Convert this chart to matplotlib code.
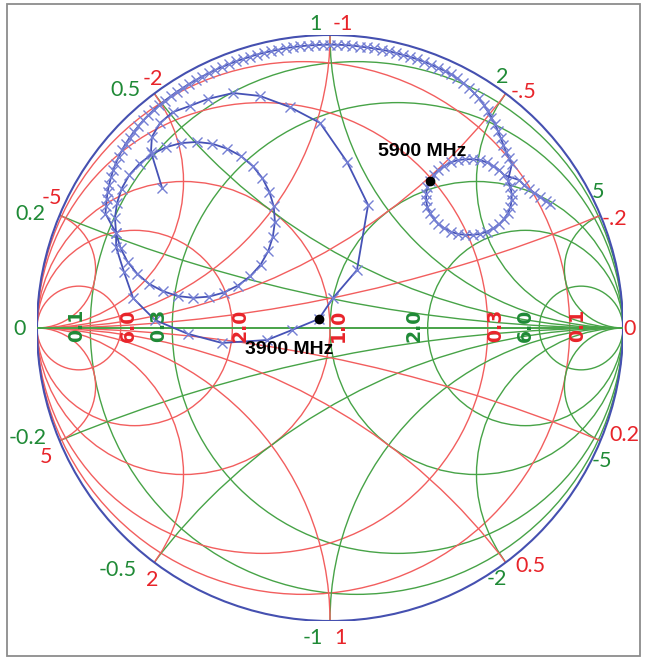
import numpy as np
import matplotlib.pyplot as plt
from matplotlib.patches import Circle, Rectangle

# Smith-Diagramm (ZY): Impedanzgitter gruen, Admittanzgitter rot
r_values = [0.1, 0.3, 1.0, 2.0, 6.0]
g_values = [0.1, 0.3, 1.0, 2.0, 6.0]
x_values = [0.2, 0.5, 1.0, 2.0, 5.0, -0.2, -0.5, -1.0, -2.0, -5.0]
b_values = [0.2, 0.5, 1.0, 2.0, 5.0, -0.2, -0.5, -1.0, -2.0, -5.0]
r_labels = ['0.1', '0.3', '', '2.0', '6.0']
g_labels = ['0.1', '0.3', '1.0', '2.0', '6.0']

# Messkurve S11 (Reflexionsfaktor, Real- und Imaginaerteil)
p1_re = [-0.573, -0.611, -0.608, -0.580, -0.536, -0.478, -0.416, -0.331, -0.239,
         -0.137, -0.034, 0.058, 0.130, 0.092, 0.010, -0.038]
p1_im = [0.478, 0.601, 0.652, 0.700, 0.737, 0.758, 0.782, 0.802, 0.792,
         0.754, 0.700, 0.567, 0.420, 0.198, 0.102, 0.031]
p2_re = [-0.130, -0.215, -0.369, -0.485, -0.597, -0.672, -0.703, -0.730]
p2_im = [-0.007, -0.041, -0.051, -0.020, 0.027, 0.102, 0.191, 0.276]
l_re = [-0.730, -0.734, -0.727, -0.711, -0.685, -0.650, -0.608, -0.560, -0.509,
        -0.455, -0.402, -0.351, -0.304, -0.264, -0.231, -0.207, -0.192, -0.188,
        -0.195, -0.211, -0.237, -0.272, -0.314, -0.362, -0.413, -0.467, -0.520,
        -0.571, -0.618, -0.658, -0.691, -0.715, -0.730]
l_im = [0.323, 0.375, 0.426, 0.476, 0.522, 0.561, 0.593, 0.617, 0.631,
        0.635, 0.629, 0.612, 0.587, 0.553, 0.512, 0.465, 0.415, 0.363,
        0.312, 0.262, 0.216, 0.177, 0.145, 0.121, 0.107, 0.103, 0.109,
        0.126, 0.151, 0.185, 0.226, 0.273, 0.323]
o1_ang = [153, 151.5, 150, 148.5, 147, 145.5, 144, 142.5, 141, 139.5, 138, 136.5,
          135, 133.5, 132, 130.5, 129, 127.5, 126, 124.5, 123, 121.5, 120, 118.5,
          117, 115.5, 114, 112.5, 111, 109.5, 108, 106.5, 105, 103.5, 102, 100.5,
          99, 97.5, 96, 94.5, 93, 91.5, 90, 88.5, 87, 85.5, 84, 82.5, 81, 79.5,
          78, 76.5, 75, 73.5, 72, 70.5, 69, 67.5, 66, 64.5, 63, 61.5, 60, 58.5,
          57, 55.5, 54, 52.5, 51, 49.5, 48, 46.5, 45, 43.5, 42]
o1_mag = [0.860, 0.870, 0.880, 0.890, 0.899, 0.907, 0.915, 0.922, 0.928, 0.934,
          0.939, 0.943, 0.947, 0.950, 0.953, 0.955, 0.957, 0.958, 0.959, 0.960,
          0.961, 0.961, 0.962, 0.962, 0.963, 0.963, 0.964, 0.964, 0.964, 0.965,
          0.965, 0.965, 0.966, 0.966, 0.966, 0.966, 0.967, 0.967, 0.967, 0.967,
          0.967, 0.967, 0.967, 0.967, 0.967, 0.967, 0.966, 0.966, 0.966, 0.966,
          0.966, 0.965, 0.965, 0.965, 0.964, 0.964, 0.963, 0.962, 0.961, 0.959,
          0.956, 0.952, 0.947, 0.941, 0.934, 0.925, 0.915, 0.905, 0.895, 0.883,
          0.871, 0.860, 0.850, 0.842, 0.835]
s_re = [0.607, 0.616, 0.620, 0.620, 0.616, 0.607, 0.594, 0.578, 0.558, 0.536,
        0.512, 0.487, 0.461, 0.436, 0.412, 0.390, 0.370, 0.354, 0.341, 0.332,
        0.328, 0.328, 0.332, 0.341, 0.354, 0.370, 0.390, 0.412, 0.436, 0.461,
        0.487, 0.512, 0.536, 0.558, 0.578, 0.594]
s_im = [0.502, 0.481, 0.458, 0.436, 0.413, 0.392, 0.372, 0.355, 0.341, 0.329,
        0.321, 0.318, 0.318, 0.321, 0.329, 0.341, 0.355, 0.372, 0.392, 0.413,
        0.436, 0.458, 0.481, 0.502, 0.522, 0.539, 0.553, 0.565, 0.573, 0.576,
        0.576, 0.573, 0.565, 0.553, 0.539, 0.522]
o2_ang = [38, 36.5, 35, 33.5, 32, 30.5, 29.5]
o2_mag = [0.820, 0.822, 0.828, 0.836, 0.845, 0.855, 0.862]

# Marker
mark_text = ['3900 MHz', '5900 MHz']
mark_re = [-0.038, 0.341]
mark_im = [0.031, 0.502]

# Beschriftung am Rand: (Text, Farbe, x_px, y_px)
rand_labels = [
    ('1', 'g', 315, 24), ('-1', 'r', 343, 24),
    ('0.5', 'g', 125, 90), ('-2', 'r', 153, 79),
    ('2', 'g', 502, 77), ('-.5', 'r', 524, 92),
    ('0.2', 'g', 30, 214), ('-5', 'r', 52, 198),
    ('5', 'g', 598, 192), ('-.2', 'r', 614, 219),
    ('0', 'g', 20, 329), ('0', 'r', 630, 329),
    ('-0.2', 'g', 28, 438), ('5', 'r', 46, 457),
    ('0.2', 'r', 624, 435), ('-5', 'g', 602, 461),
    ('-0.5', 'g', 118, 570), ('2', 'r', 152, 580),
    ('-2', 'g', 497, 579), ('0.5', 'r', 530, 566),
    ('-1', 'g', 313, 638), ('1', 'r', 340, 638),
]

GRUEN = '#47a347'
ROT = '#f25e5e'
GRUEN_T = '#1f8a36'
ROT_T = '#e8242a'
BLAU = '#4550b0'
farbe = {'g': GRUEN_T, 'r': ROT_T}

fig = plt.figure(figsize=(6.46, 6.60), dpi=100)
fig.patches.append(Rectangle((7/646, 4/660), 633/646, 652/660, transform=fig.transFigure,
                             fill=False, ec='#8c8c8c', lw=1.3))
ax = fig.add_axes([37/646, 39/660, 586/646, 586/660])
ax.set_xlim(-1, 1)
ax.set_ylim(-1, 1)
ax.axis('off')
px = 1 / 293.0

einheit = Circle((0, 0), 1, transform=ax.transData)

# Widerstands- und Leitwertkreise
for r in r_values:
    ax.add_patch(Circle((r / (1 + r), 0), 1 / (1 + r), fill=False, ec=GRUEN, lw=1.0))
for g in g_values:
    ax.add_patch(Circle((-g / (1 + g), 0), 1 / (1 + g), fill=False, ec=ROT, lw=1.0))

# Reaktanz- und Suszeptanzboegen
for x in x_values:
    c = Circle((1, 1 / x), 1 / abs(x), fill=False, ec=GRUEN, lw=1.0)
    ax.add_patch(c)
    c.set_clip_path(einheit)
for b in b_values:
    c = Circle((-1, -1 / b), 1 / abs(b), fill=False, ec=ROT, lw=1.0)
    ax.add_patch(c)
    c.set_clip_path(einheit)

ax.plot([-1, 1], [0, 0], color=GRUEN, lw=1.4)
ax.add_patch(Circle((0, 0), 1, fill=False, ec=BLAU, lw=1.5))

# Achsenbeschriftung (gedreht)
for r, t in zip(r_values, r_labels):
    if t:
        xl = (r - 1) / (r + 1) - 14 * px
        ax.text(xl, 3 * px, t, rotation=90, ha='center', va='center', color=GRUEN_T,
                fontsize=13.6, fontweight='bold', family='DejaVu Sans')
for g, t in zip(g_values, g_labels):
    xl = (1 - g) / (1 + g) + 8 * px
    ax.text(xl, 3 * px, t, rotation=90, ha='center', va='center', color=ROT_T,
            fontsize=13.6, fontweight='bold', family='DejaVu Sans')

for t, c, xp, yp in rand_labels:
    ax.text((xp - 330) * px, (328 - yp) * px, t, color=farbe[c], fontsize=15.5,
            ha='center', va='center', family='Lato', clip_on=False)

# Messkurve zusammensetzen
o1_re = np.array(o1_mag) * np.cos(np.radians(o1_ang))
o1_im = np.array(o1_mag) * np.sin(np.radians(o1_ang))
o2_re = np.array(o2_mag) * np.cos(np.radians(o2_ang))
o2_im = np.array(o2_mag) * np.sin(np.radians(o2_ang))
kurve_re = np.concatenate([p1_re, p2_re, l_re, o1_re, s_re, o2_re])
kurve_im = np.concatenate([p1_im, p2_im, l_im, o1_im, s_im, o2_im])
ax.plot(kurve_re, kurve_im, color='#4652b6', lw=1.3, marker='x', ms=7,
        mec='#7580d4', mew=1.0)

ax.plot(mark_re, mark_im, 'o', color='black', ms=6)
text_pos = [(-0.140, -0.075), (0.314, 0.601)]
for t, (xt, yt) in zip(mark_text, text_pos):
    ax.text(xt, yt, t, ha='center', va='center', fontsize=14, fontweight='bold',
            family='Liberation Sans', color='black')

fig.savefig('out.png', dpi=100)
